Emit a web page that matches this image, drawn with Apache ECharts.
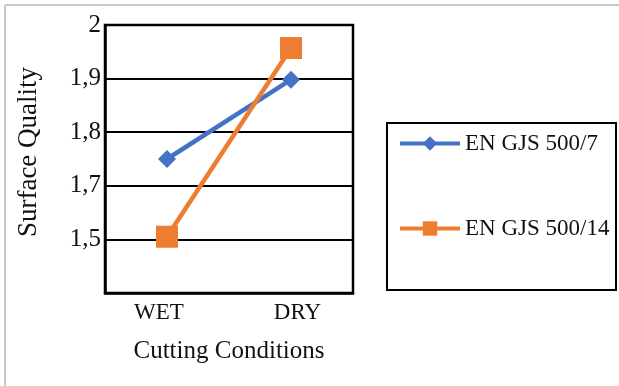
<!DOCTYPE html>
<html>
<head>
<meta charset="utf-8">
<script src="https://cdn.jsdelivr.net/npm/echarts@6/dist/echarts.min.js"></script>
<style>html,body{margin:0;padding:0;background:#fff}#c{width:619px;height:386px}</style>
</head>
<body>
<div id="c"></div>
<script>
const categories = ['WET', 'DRY'];
const seriesNames = ['EN GJS 500/7', 'EN GJS 500/14'];
const valuesGJS7 = [1.75, 1.898];
const valuesGJS14 = [1.605, 1.957];
const tickValues = [1.5, 1.6, 1.7, 1.8, 1.9, 2.0];
const tickLabels = ['', '1,5', '1,7', '1,8', '1,9', '2'];

const font = 'Liberation Serif';
const chart = echarts.init(document.getElementById('c'));
chart.setOption({
  animation: false,
  backgroundColor: '#fff',
  graphic: [
    {type: 'line', shape: {x1: 5, y1: 5, x2: 619, y2: 5}, style: {stroke: '#c8c8c8', lineWidth: 2}},
    {type: 'line', shape: {x1: 5, y1: 5, x2: 5, y2: 386}, style: {stroke: '#c8c8c8', lineWidth: 2}},
    {type: 'rect', shape: {x: 387, y: 123, width: 229, height: 167}, style: {fill: 'none', stroke: '#000', lineWidth: 2}}
  ],
  grid: {left: 105, right: 266, top: 25, bottom: 93, show: true, borderColor: '#000', borderWidth: 2.5, containLabel: false},
  legend: {
    orient: 'vertical', left: 398, top: 132,
    padding: 0,
    itemGap: 62, itemWidth: 60, itemHeight: 18,
    lineStyle: {width: 4},
    textStyle: {fontFamily: font, fontSize: 23, color: '#111'},
    data: seriesNames
  },
  xAxis: {
    type: 'category', data: categories,
    axisTick: {show: false},
    axisLine: {lineStyle: {color: '#000', width: 2.5}},
    axisLabel: {
      fontFamily: font, fontSize: 23, color: '#111', margin: 8,
      formatter: function (v, i) { return i === 0 ? '{a|' + v + '}' : '{b|' + v + '}'; },
      rich: {
        a: {fontFamily: font, fontSize: 23, color: '#111', padding: [0, 16, 0, 0]},
        b: {fontFamily: font, fontSize: 23, color: '#111', padding: [0, 0, 0, 13]}
      }
    },
    name: 'Cutting Conditions', nameLocation: 'middle', nameGap: 46,
    nameTextStyle: {fontFamily: font, fontSize: 25, color: '#111'}
  },
  yAxis: {
    type: 'value', min: 1.5, max: 2.0, interval: 0.1,
    axisLine: {show: true, lineStyle: {color: '#000', width: 2.5}},
    axisTick: {show: false},
    splitLine: {lineStyle: {color: '#000', width: 2}},
    axisLabel: {
      fontFamily: font, fontSize: 25, color: '#111', margin: 4,
      formatter: function (v) {
        for (let i = 0; i < tickValues.length; i++) if (Math.abs(v - tickValues[i]) < 1e-6) return tickLabels[i];
        return '';
      }
    },
    name: 'Surface Quality', nameLocation: 'middle', nameGap: 63, nameRotate: 90,
    nameTextStyle: {fontFamily: font, fontSize: 27, color: '#111', padding: [0, 0, 0, 14]}
  },
  series: [
    {name: seriesNames[0], type: 'line', data: valuesGJS7, symbol: 'diamond', symbolSize: 18,
     lineStyle: {color: '#4472C4', width: 4.5}, itemStyle: {color: '#4472C4'}},
    {name: seriesNames[1], type: 'line', data: valuesGJS14, symbol: 'rect', symbolSize: 22,
     lineStyle: {color: '#ED7D31', width: 4.5}, itemStyle: {color: '#ED7D31'}}
  ]
});
</script>
</body>
</html>
